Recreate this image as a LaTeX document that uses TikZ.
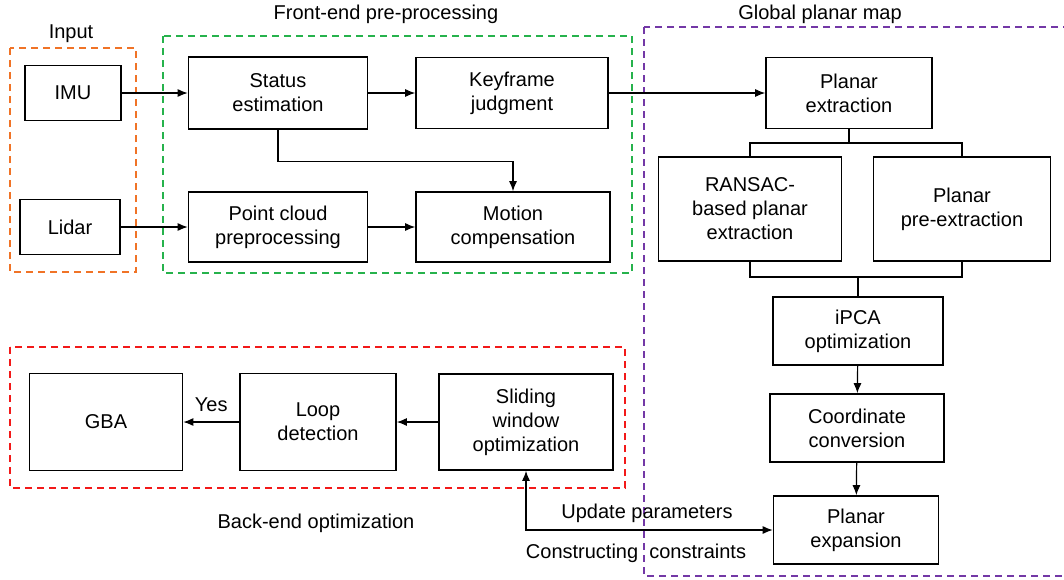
\documentclass[tikz,border=0pt]{standalone}
\usepackage{fontspec}
\setmainfont{Liberation Sans}
\usetikzlibrary{arrows.meta, positioning, calc}
\definecolor{inorange}{rgb}{0.94, 0.45, 0.15}
\definecolor{fegreen}{rgb}{0.15, 0.70, 0.30}
\definecolor{bered}{rgb}{0.95, 0.10, 0.10}
\definecolor{mappurple}{rgb}{0.45, 0.22, 0.65}

\begin{document}
\begin{tikzpicture}[x=1pt, y=-1pt,
    blk/.style = {draw, line width=1.6pt, align=center, inner sep=0pt},
    grp/.style = {line width=1.5pt, dash pattern=on 7pt off 5pt},
    arr/.style = {line width=1.2pt, -{Latex[length=10pt,width=8pt]}},
    arrboth/.style = {line width=1.2pt, {Latex[length=10pt,width=8pt]}-{Latex[length=10pt,width=8pt]}},
    lnk/.style = {line width=1.2pt}]
    \useasboundingbox (0,0) rectangle (1064,579);
    \begin{scope}[every node/.style = {font=\fontsize{20}{24}\selectfont}]
        % group frames
        \draw[grp, inorange] (10,48) rectangle (136,272);
        \draw[grp, fegreen] (163,36) rectangle (632,273);
        \draw[grp, mappurple] (644,27) rectangle (1070,576);
        \draw[grp, bered] (10,347) rectangle (625,488);
        \node[anchor=center] (tIn) at (71,34) {Input};
        \node[anchor=center] (tFe) at (386,14) {Front-end pre-processing};
        \node[anchor=center] (tMap) at (820,14) {Global planar map};
        \node[anchor=center] (tBe) at (316,523) {Back-end optimization};
        % input
        \node[blk, minimum width=96, minimum height=55] (imu) at (73,93) {IMU};
        \node[blk, minimum width=100, minimum height=55] (lidar) at (70,227) {Lidar};
        % front-end
        \node[blk, minimum width=179, minimum height=72] (status) at (278,93) {Status\\estimation};
        \node[blk, minimum width=192, minimum height=71] (keyf) at (512,93) {Keyframe\\judgment};
        \node[blk, minimum width=179, minimum height=70] (pcl) at (278,227) {Point cloud\\preprocessing};
        \node[blk, minimum width=194, minimum height=70] (motion) at (513,227) {Motion\\compensation};
        % planar map
        \node[blk, minimum width=166, minimum height=71] (pext) at (849,93) {Planar\\extraction};
        \node[blk, minimum width=183, minimum height=104] (ransac) at (750,209) {RANSAC-\\based planar\\extraction};
        \node[blk, minimum width=177, minimum height=104] (pre) at (962,209) {Planar\\pre-extraction};
        \node[blk, minimum width=170, minimum height=68] (ipca) at (858,331) {iPCA\\optimization};
        \node[blk, minimum width=174, minimum height=68] (conv) at (857,428) {Coordinate\\conversion};
        \node[blk, minimum width=165, minimum height=68] (expand) at (856,530) {Planar\\expansion};
        % back-end
        \node[blk, minimum width=153, minimum height=97] (gba) at (106,422) {GBA};
        \node[blk, minimum width=156, minimum height=97] (loop) at (318,422) {Loop\\detection};
        \node[blk, minimum width=174, minimum height=96] (slide) at (526,422) {Sliding\\window\\optimization};
        \coordinate (split) at (849,143);
        \coordinate (join) at (858,277);

        \draw[arr] (imu) -- (status);
        \draw[arr] (lidar) -- (pcl);
        \draw[arr] (status) -- (keyf);
        \draw[arr] (pcl) -- (motion);
        \draw[arr] (status.south) -- ++(0,32) -| (motion.north);
        \draw[arr] (keyf) -- (pext);
        \draw[lnk] (pext.south) -- (split);
        \draw[lnk] (ransac.north) |- (split) -| (pre.north);
        \draw[lnk] (ransac.south) |- (join) -| (pre.south);
        \draw[lnk] (join) -- (ipca.north);
        \draw[arr] (ipca) -- (conv);
        \draw[arr] (conv) -- (expand);
        \draw[arr] (slide) -- (loop);
        \draw[arr] (loop) -- node[above=6pt] (tYes) {Yes} (gba);
        \draw[arrboth] (slide.south) |- (expand.west);
        \node[anchor=center] (tUpd) at (647,513) {Update parameters};
        \node[anchor=center] (tCon) at (636,553) {Constructing\ \ constraints};
    \end{scope}
\end{tikzpicture}
\end{document}
